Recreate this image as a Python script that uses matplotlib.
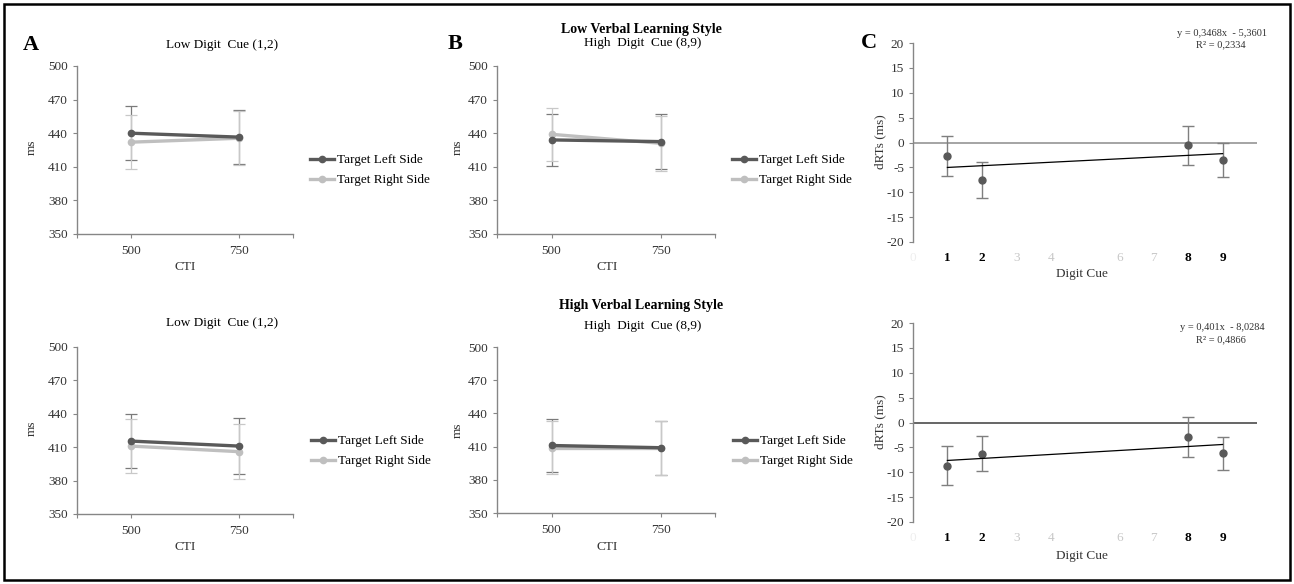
import numpy as np
import matplotlib
matplotlib.use("Agg")
import matplotlib.pyplot as plt
from matplotlib.patches import Rectangle

plt.rcParams['font.family'] = ['Liberation Serif', 'DejaVu Serif']
plt.rcParams['axes.unicode_minus'] = False

# CTI conditions
cti = ["500", "750"]

# mean RTs (ms) and error bars, low verbal learning style
low_low_left = [440.0, 436.5]
low_low_right = [432.0, 435.5]
low_low_err = [24.0, 24.0]
low_high_left = [434.0, 432.5]
low_high_right = [439.0, 431.0]
low_high_err = [23.5, 24.5]

# high verbal learning style
high_low_left = [415.5, 411.0]
high_low_right = [411.0, 406.0]
high_low_err = [24.5, 25.0]
high_high_left = [411.0, 409.0]
high_high_right = [409.0, 409.0]
high_high_err = [24.0, 24.5]

# dRTs per digit cue
digits = [1, 2, 8, 9]
drt_low = [-2.7, -7.6, -0.6, -3.6]
drt_low_err = [4.0, 3.6, 4.0, 3.4]
drt_high = [-8.7, -6.3, -2.9, -6.2]
drt_high_err = [3.9, 3.5, 4.0, 3.3]
fit_low = (0.3468, -5.3601, 0.2334)
fit_high = (0.401, -8.0284, 0.4866)

digit_ticks = [0, 1, 2, 3, 4, 6, 7, 8, 9]

W, H = 1294, 584
fig = plt.figure(figsize=(W / 100, H / 100), dpi=100)

def box(x0, y0, x1, y1):
    return [x0 / W, 1 - y1 / H, (x1 - x0) / W, (y1 - y0) / H]

def txt(x, y, s, **kw):
    fig.text(x / W, 1 - y / H, s, ha='center', va='center', **kw)

dark = '#595959'
light = '#bfbfbf'
spine = '#868686'

def cti_panel(rect, left, right, err, leg_xy):
    ax = fig.add_axes(box(*rect))
    x = np.arange(len(cti))
    ax.errorbar(x, left, yerr=err, fmt='none', ecolor='#7a7a7a', elinewidth=0.9, capsize=4, capthick=0.9, zorder=2)
    ax.errorbar(x, right, yerr=err, fmt='none', ecolor='#c8c8c8', elinewidth=0.9, capsize=4, capthick=0.9, zorder=2)
    ax.plot(x, left, color=dark, lw=2.4, marker='o', ms=4.5, label='Target Left Side', zorder=4)
    ax.plot(x, right, color=light, lw=2.4, marker='o', ms=4.5, label='Target Right Side', zorder=3)
    ax.set_xlim(-0.5, 1.5)
    ax.set_ylim(350, 500)
    ax.set_yticks(np.arange(350, 501, 30))
    ax.set_xticks(x)
    ax.set_xticklabels(cti)
    ax.set_xticks([-0.5, 1.5], minor=True)
    for s in ['top', 'right']:
        ax.spines[s].set_visible(False)
    for s in ['left', 'bottom']:
        ax.spines[s].set_color(spine)
        ax.spines[s].set_linewidth(1.0)
    ax.tick_params(which='both', colors=spine, labelcolor='#333333', labelsize=9.5, length=3, width=0.8)
    ax.tick_params(axis='x', pad=5)
    ax.legend(loc='upper left', bbox_to_anchor=(leg_xy[0] / W, 1 - leg_xy[1] / H),
              bbox_transform=fig.transFigure, frameon=False, borderpad=0, borderaxespad=0,
              handlelength=1.85, handletextpad=0.2, labelspacing=0.58, fontsize=9.5, numpoints=1)
    return ax

def digit_panel(rect, vals, errs, fit, zero_col, eq_y):
    ax = fig.add_axes(box(*rect))
    ax.axhline(0, color=zero_col, lw=1.1, zorder=1)
    ax.errorbar(digits, vals, yerr=errs, fmt='o', color=dark, ms=5, ecolor='#7f7f7f',
                elinewidth=1.0, capsize=4.5, capthick=1.0, zorder=3)
    xs = np.array([digits[0], digits[-1]])
    ax.plot(xs, fit[0] * xs + fit[1], color='black', lw=0.9, zorder=4)
    ax.set_xlim(0, 10)
    ax.set_ylim(-20, 20)
    ax.set_yticks(np.arange(-20, 21, 5))
    ax.set_xticks(digit_ticks)
    ax.set_xticklabels([str(d) for d in digit_ticks])
    for lab, d in zip(ax.get_xticklabels(), digit_ticks):
        if d in digits:
            lab.set_fontweight('bold')
            lab.set_color('black')
        elif d == 0:
            lab.set_color('#eeeeee')
        else:
            lab.set_color('#c8c8c8')
    for s in ['top', 'right', 'bottom']:
        ax.spines[s].set_visible(False)
    ax.spines['left'].set_color(spine)
    ax.spines['left'].set_linewidth(1.0)
    ax.tick_params(axis='y', colors=spine, labelcolor='#333333', labelsize=9.5, length=3, width=0.8)
    ax.tick_params(axis='x', length=0, labelsize=9.5, pad=7)
    eq = "y = " + ("%g" % fit[0]).replace('.', ',') + "x  - " + ("%.4f" % -fit[1]).replace('.', ',')
    txt(1222, eq_y, eq, fontsize=7.5, color='#333333')
    txt(1221, eq_y + 12, "R² = " + ("%.4f" % fit[2]).replace('.', ','), fontsize=7.5, color='#333333')
    return ax

# panel A
cti_panel((77, 66, 293, 234), low_low_left, low_low_right, low_low_err, (310, 154))
cti_panel((77, 347, 293, 514), high_low_left, high_low_right, high_low_err, (311, 435))
# panel B
cti_panel((497, 66, 715, 234), low_high_left, low_high_right, low_high_err, (732, 154))
cti_panel((497, 347, 715, 513), high_high_left, high_high_right, high_high_err, (733, 435))
# panel C
digit_panel((913, 43, 1257, 242), drt_low, drt_low_err, fit_low, '#8c8c8c', 33)
digit_panel((913, 323, 1257, 522), drt_high, drt_high_err, fit_high, '#3c3c3c', 328)

# letters and titles
txt(31, 45, "A", fontsize=16, fontweight='bold')
txt(455, 44, "B", fontsize=16, fontweight='bold')
txt(869, 43, "C", fontsize=16, fontweight='bold')
txt(222, 45, "Low Digit  Cue (1,2)", fontsize=9.5)
txt(222, 323, "Low Digit  Cue (1,2)", fontsize=9.5)
txt(641, 29, "Low Verbal Learning Style", fontsize=10, fontweight='bold')
txt(643, 43, "High  Digit  Cue (8,9)", fontsize=9.5)
txt(641, 306, "High Verbal Learning Style", fontsize=10, fontweight='bold')
txt(643, 326, "High  Digit  Cue (8,9)", fontsize=9.5)

# axis labels
for x, y in [(32, 147), (32, 428), (458, 147), (458, 430)]:
    txt(x, y, "ms", fontsize=9.5, rotation=90, color='#333333')
for x, y in [(185, 267), (185, 547), (607, 267), (607, 547)]:
    txt(x, y, "CTI", fontsize=9.5, color='#333333')
for y in [142, 422]:
    txt(880, y, "dRTs (ms)", fontsize=9.5, rotation=90, color='#333333')
txt(1082, 274, "Digit Cue", fontsize=9.5, color='#333333')
txt(1082, 556, "Digit Cue", fontsize=9.5, color='#333333')

# outer frame
fig.patches.append(Rectangle((4 / W, 4 / H), 1286 / W, 576 / H, transform=fig.transFigure,
                             fill=False, edgecolor='black', lw=1.8))

fig.savefig("out.png", dpi=100)
